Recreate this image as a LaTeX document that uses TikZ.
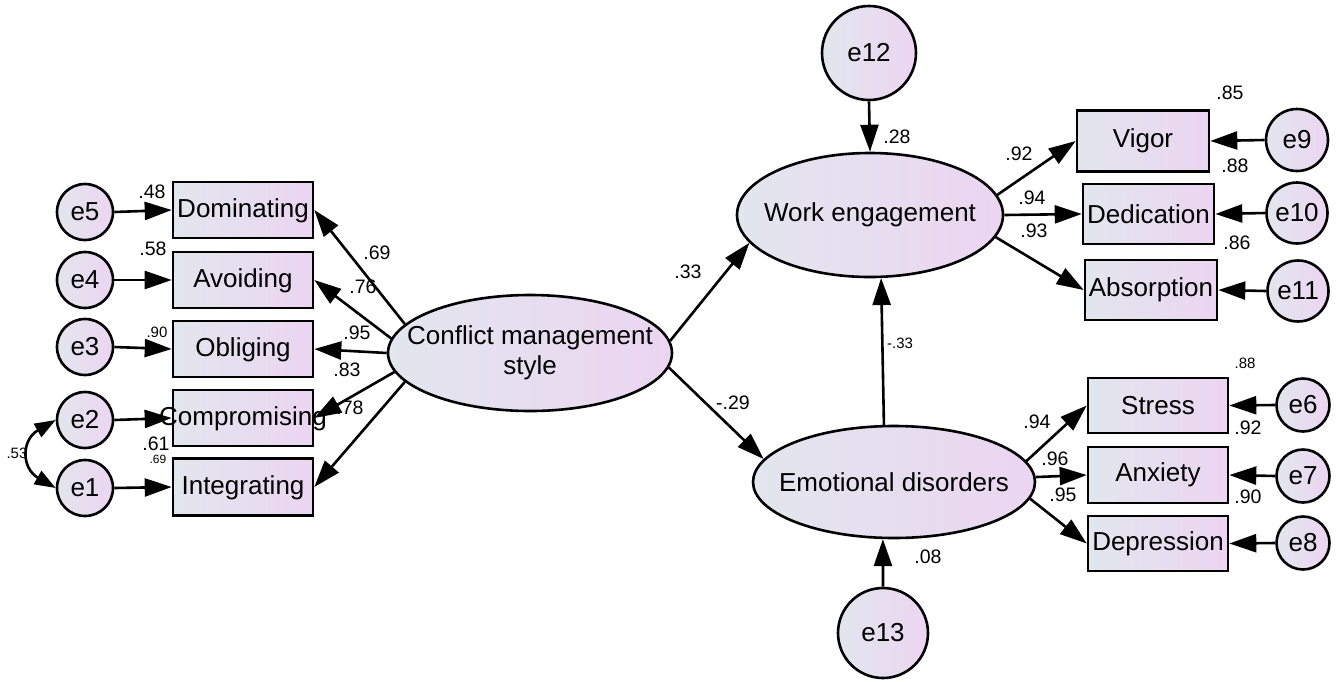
\documentclass[tikz,border=0pt]{standalone}
\usepackage{fontspec}
\setmainfont{Liberation Sans}
\usetikzlibrary{arrows.meta,shapes.geometric}
\definecolor{gL}{RGB}{226,230,238}
\definecolor{gR}{RGB}{236,213,241}
\tikzset{
  base/.style={draw=black, line width=2.6pt, left color=gL, right color=gR, inner sep=0pt},
  obs/.style={base, rectangle, minimum width=140pt, minimum height=56pt},
  lat/.style={base, ellipse},
  err/.style={base, circle, font=\fontsize{26}{29}\selectfont},
  txt/.style={font=\fontsize{26}{30}\selectfont, align=center, inner sep=0pt},
  lab/.style={font=\fontsize{19.5}{21}\selectfont, inner sep=0pt},
  slab/.style={font=\fontsize{15}{17}\selectfont, inner sep=0pt},
  tlab/.style={font=\fontsize{12}{14}\selectfont, inner sep=0pt},
  arr/.style={line width=2.6pt, -{Triangle[length=27pt,width=18pt]}},
  darr/.style={line width=2.6pt, {Triangle[length=21pt,width=15pt]}-{Triangle[length=21pt,width=15pt]}},
}
\begin{document}
\begin{tikzpicture}[x=1pt,y=-1pt]
\useasboundingbox (0,0) rectangle (1336,681);
% latent
\node[lat, minimum width=284pt, minimum height=116pt] (cms) at (530,353) {};
\node[txt] (cmsT) at (cms) {Conflict management\\style};
\node[lat, minimum width=266pt, minimum height=124pt] (we) at (870,215) {};
\node[txt] (weT) at (we) {Work engagement};
\node[lat, minimum width=282pt, minimum height=112pt] (ed) at (894,482) {};
\node[txt] (edT) at (ed) {Emotional disorders};
% left observed
\node[obs] (dom) at (243,210) {}; \node[txt] (domT) at ([yshift=-1pt]dom) {Dominating};
\node[obs] (avo) at (243,280) {}; \node[txt] (avoT) at ([yshift=-1pt]avo) {Avoiding};
\node[obs] (obl) at (243,349) {}; \node[txt] (oblT) at ([yshift=-1pt]obl) {Obliging};
\node[obs] (comp) at (243,418) {}; \node[txt] (compT) at ([yshift=-1pt]comp) {Compromising};
\node[obs, minimum height=57pt] (integ) at (243,487) {}; \node[txt] (integT) at ([yshift=-1pt]integ) {Integrating};
% right observed
\node[obs, minimum width=132pt, minimum height=61pt] (vig) at (1143,141) {}; \node[txt] (vigT) at (vig) {Vigor};
\node[obs, minimum width=131pt, minimum height=60pt] (ded) at (1148.5,214) {}; \node[txt] (dedT) at (ded) {Dedication};
\node[obs, minimum width=132pt, minimum height=60pt] (abs) at (1151,290) {}; \node[txt] (absT) at (abs) {Absorption};
\node[obs, minimum height=55pt] (str) at (1158,405.5) {}; \node[txt] (strT) at (str) {Stress};
\node[obs] (anx) at (1158,475) {}; \node[txt] (anxT) at (anx) {Anxiety};
\node[obs, minimum height=55pt] (dep) at (1158,543.5) {}; \node[txt] (depT) at (dep) {Depression};
% errors
\node[err, minimum size=56pt] (e5) at (85,212) {e5};
\node[err, minimum size=56pt] (e4) at (85,280) {e4};
\node[err, minimum size=56pt] (e3) at (85,347) {e3};
\node[err, minimum size=56pt] (e2) at (85,420) {e2};
\node[err, minimum size=56pt] (e1) at (85,488) {e1};
\node[err, minimum size=62pt] (e9) at (1297,140) {e9};
\node[err, minimum size=61pt] (e10) at (1297,213) {e10};
\node[err, minimum size=61pt] (e11) at (1298,291) {e11};
\node[err, minimum size=53pt] (e6) at (1303,405) {e6};
\node[err, minimum size=53pt] (e7) at (1303,476) {e7};
\node[err, minimum size=53pt] (e8) at (1303,543) {e8};
\node[err, minimum size=94pt] (e12) at (869,53) {e12};
\node[err, minimum size=90pt] (e13) at (883,633) {e13};
% error arrows
\draw[arr] (e5.east) -- (dom.west);
\draw[arr] (e4.east) -- (avo.west);
\draw[arr] (e3.east) -- (obl.west);
\draw[arr] (e2.east) -- (comp.west);
\draw[arr] (e1.east) -- (integ.west);
\draw[darr] (e2.west) to[out=210,in=150,looseness=1.5] (e1.west);
\draw[arr] (e9.west) -- (vig.east);
\draw[arr] (e10.west) -- (ded.east);
\draw[arr] (e11.west) -- (abs.east);
\draw[arr] (e6.west) -- (str.east);
\draw[arr] (e7.west) -- (anx.east);
\draw[arr] (e8.west) -- (dep.east);
\draw[arr] (e12.south) -- (we.north);
\draw[arr] (e13.north) -- (ed.-101);
% loadings
\draw[arr] (cms.167) -- (dom.east);
\draw[arr] (cms.174) -- (avo.east);
\draw[arr] (cms.180) -- (obl.east);
\draw[arr] (cms.188) -- (comp.east);
\draw[arr] (cms.193) -- (integ.east);
\draw[arr] (we.9) -- (vig.west);
\draw[arr] (we.0) -- (ded.west);
\draw[arr] (we.-10) -- (abs.west);
\draw[arr] (ed.9) -- (str.west);
\draw[arr] (ed.2) -- (anx.west);
\draw[arr] (ed.-7) -- (dep.west);
% structural
\draw[arr] (cms.5) -- (we.193);
\draw[arr] (cms.-6) -- (ed.170);
\draw[arr] (ed.100) -- (we.-80);
% labels
\node[lab] (l48) at (152,192) {.48};
\node[lab] (l58) at (153,249) {.58};
\node[slab] (l90a) at (157,332) {.90};
\node[lab] (l61) at (156,444) {.61};
\node[tlab] (l69a) at (158,459) {.69};
\node[slab] (l53) at (17,453) {.53};
\node[lab] (l69) at (377,253) {.69};
\node[lab] (l76) at (363,287) {.76};
\node[lab] (l95a) at (357,333) {.95};
\node[lab] (l83) at (347,370) {.83};
\node[lab] (l78) at (350,408) {.78};
\node[lab] (l33) at (688,272) {.33};
\node[lab] (l29) at (733,403) {-.29};
\node[slab] (lm33) at (900,343) {-.33};
\node[lab] (l28) at (897,137) {.28};
\node[lab] (l08) at (928,557) {.08};
\node[lab] (l92a) at (1019,154) {.92};
\node[lab] (l94a) at (1032,198) {.94};
\node[lab] (l93) at (1034,231) {.93};
\node[lab] (l85) at (1230,93) {.85};
\node[lab] (l88a) at (1235,166) {.88};
\node[lab] (l86) at (1237,243) {.86};
\node[slab] (l88b) at (1245,363) {.88};
\node[lab] (l92b) at (1248,428) {.92};
\node[lab] (l90b) at (1248,497) {.90};
\node[lab] (l94b) at (1037,422) {.94};
\node[lab] (l96) at (1055,459) {.96};
\node[lab] (l95b) at (1063,495) {.95};
\end{tikzpicture}
\end{document}
